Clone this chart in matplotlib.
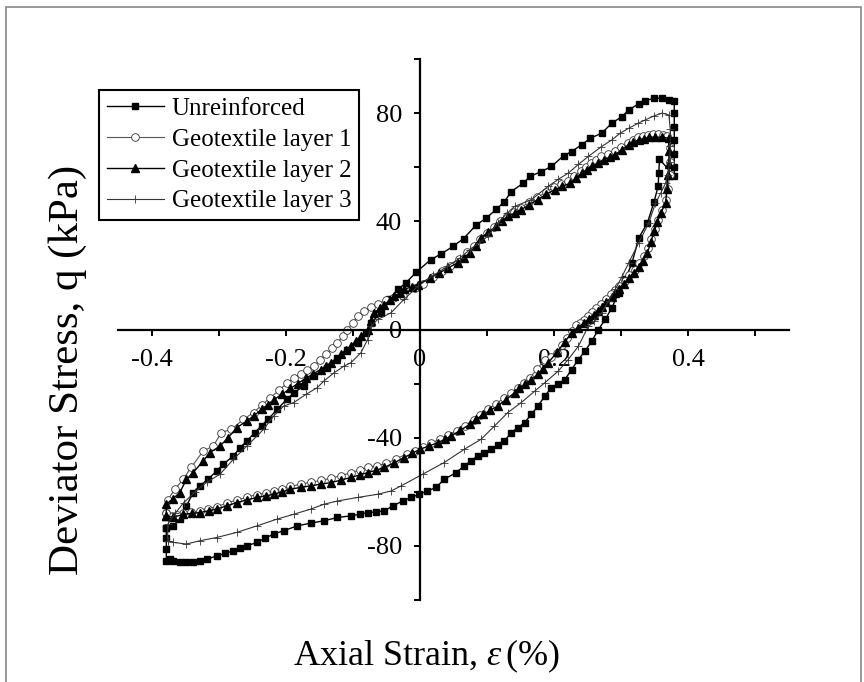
import matplotlib
matplotlib.use("Agg")
import matplotlib.pyplot as plt
from matplotlib.patches import Rectangle
from matplotlib.ticker import MultipleLocator

plt.rcParams['font.family'] = ['Liberation Serif', 'DejaVu Serif']
plt.rcParams['mathtext.fontset'] = 'custom'
plt.rcParams['mathtext.rm'] = 'Liberation Serif'
plt.rcParams['mathtext.it'] = 'Liberation Serif:italic'
plt.rcParams['axes.unicode_minus'] = False

# hysteresis loops: loading branch up to peak strain, then unloading branch back
unreinforced_strain = [
    -0.378, -0.368, -0.358, -0.348, -0.338, -0.328, -0.316, -0.303, -0.293, -0.278,
    -0.268, -0.258, -0.246, -0.236, -0.226, -0.213, -0.198, -0.188, -0.173, -0.158,
    -0.138, -0.123, -0.108, -0.093, -0.081, -0.073, -0.058, -0.046, -0.033, -0.021,
    -0.006, 0.016, 0.032, 0.049, 0.065, 0.084, 0.099, 0.114, 0.126, 0.136,
    0.154, 0.164, 0.181, 0.196, 0.214, 0.226, 0.241, 0.254, 0.271, 0.286,
    0.301, 0.311, 0.326, 0.336, 0.349, 0.361, 0.371, 0.379,
    0.379, 0.379, 0.379, 0.379, 0.379, 0.379,
    0.357, 0.356, 0.355, 0.349, 0.339, 0.326, 0.316, 0.306, 0.296, 0.286,
    0.276, 0.266, 0.256, 0.246, 0.236, 0.226, 0.216, 0.206, 0.196, 0.186,
    0.176, 0.166, 0.156, 0.146, 0.136, 0.126, 0.116, 0.106, 0.096, 0.086,
    0.076, 0.066, 0.054, 0.036, 0.024, 0.011, -0.001, -0.013, -0.026, -0.040,
    -0.053, -0.065, -0.078, -0.090, -0.103, -0.123, -0.143, -0.163, -0.183, -0.203,
    -0.218, -0.231, -0.243, -0.258, -0.268, -0.278, -0.291, -0.303, -0.318, -0.328,
    -0.338, -0.348, -0.358, -0.368, -0.373, -0.378, -0.378, -0.378, -0.378,
]
unreinforced_stress = [
    -73.2, -72.6, -70.1, -65.2, -60.3, -57.8, -55.4, -52.3, -49.8, -46.7,
    -43.7, -41.2, -38.1, -35.5, -33.2, -29.5, -25.8, -23.4, -20.9, -17.2,
    -14.1, -10.4, -7.4, -4.9, -1.2, 2.5, 6.2, 11.1, 14.8, 17.2,
    21.1, 25.8, 28.0, 30.7, 33.6, 38.7, 41.2, 44.5, 47.3, 51.0,
    54.1, 56.6, 58.4, 60.3, 64.2, 65.8, 68.3, 70.7, 72.6, 76.3,
    78.7, 81.2, 83.4, 84.6, 85.5, 85.5, 84.9, 84.3,
    80.0, 75.0, 70.0, 65.0, 60.0, 56.6,
    63.0, 58.0, 53.0, 47.3, 39.4, 33.8, 24.6, 18.5, 13.5, 8.0,
    3.7, 0.0, -4.3, -8.0, -11.1, -14.8, -18.5, -20.0, -21.5, -24.6,
    -28.3, -31.4, -34.4, -36.3, -38.1, -41.2, -42.8, -44.3, -45.5, -46.7,
    -48.6, -50.4, -52.9, -55.4, -58.4, -59.7, -60.9, -62.1, -63.4, -65.2,
    -67.0, -67.4, -67.7, -68.3, -68.9, -69.5, -70.7, -71.6, -72.6, -74.4,
    -75.6, -77.2, -78.7, -80.0, -80.9, -81.8, -82.8, -83.7, -84.9, -85.5,
    -85.9, -86.0, -85.9, -85.5, -84.9, -85.5, -81.0, -77.0, -73.2,
]

layer1_strain = [
    -0.378, -0.376, -0.365, -0.353, -0.341, -0.323, -0.308, -0.296, -0.281, -0.263,
    -0.248, -0.236, -0.223, -0.210, -0.198, -0.188, -0.178, -0.168, -0.158, -0.149,
    -0.140, -0.131, -0.123, -0.115, -0.108, -0.100, -0.093, -0.083, -0.073, -0.063,
    -0.050, -0.040, -0.025, -0.008, 0.005, 0.020, 0.033, 0.045, 0.058, 0.070,
    0.080, 0.090, 0.100, 0.110, 0.120, 0.130, 0.140, 0.150, 0.162, 0.175,
    0.188, 0.200, 0.210, 0.220, 0.230, 0.240, 0.248, 0.255, 0.263, 0.270,
    0.280, 0.290, 0.300, 0.310, 0.318, 0.325, 0.333, 0.340, 0.348, 0.355,
    0.362, 0.368, 0.372, 0.373, 0.372, 0.370, 0.366, 0.360, 0.355, 0.350,
    0.345, 0.340, 0.334, 0.327, 0.320, 0.312, 0.305, 0.297, 0.291, 0.285,
    0.277, 0.270, 0.263, 0.257, 0.250, 0.244, 0.238, 0.232, 0.226, 0.219,
    0.212, 0.204, 0.195, 0.186, 0.175, 0.164, 0.155, 0.146, 0.136, 0.126,
    0.113, 0.101, 0.090, 0.080, 0.067, 0.055, 0.042, 0.030, 0.017, 0.005,
    -0.008, -0.020, -0.035, -0.050, -0.064, -0.078, -0.090, -0.103, -0.118, -0.133,
    -0.148, -0.163, -0.178, -0.193, -0.205, -0.218, -0.230, -0.243, -0.258, -0.273,
    -0.288, -0.303, -0.316, -0.328, -0.341, -0.353, -0.362, -0.370, -0.378,
]
layer1_stress = [
    -68.0, -63.0, -59.0, -55.4, -51.0, -44.9, -43.1, -38.1, -36.9, -33.2,
    -30.7, -28.0, -25.2, -22.5, -19.7, -18.0, -16.5, -15.0, -13.5, -11.2,
    -9.0, -7.0, -4.9, -2.5, 0.0, 2.5, 4.9, 7.0, 8.2, 9.5,
    10.8, 11.5, 12.5, 15.5, 17.0, 19.5, 21.5, 23.5, 26.0, 28.5,
    31.0, 33.5, 35.8, 38.0, 40.0, 42.0, 43.5, 45.0, 47.0, 48.8,
    50.8, 52.5, 53.8, 55.0, 56.8, 58.5, 60.0, 61.5, 62.8, 64.0,
    65.0, 66.0, 67.5, 69.0, 70.0, 71.0, 71.5, 72.0, 72.2, 72.2,
    72.0, 71.5, 67.0, 62.0, 57.0, 52.0, 48.0, 44.0, 40.5, 37.0,
    33.5, 30.0, 27.0, 24.5, 22.0, 20.0, 18.0, 16.0, 14.5, 13.0,
    11.2, 9.5, 8.0, 6.5, 5.0, 3.5, 2.5, 1.5, -0.5, -3.1,
    -5.8, -8.6, -10.0, -11.1, -14.5, -17.8, -19.6, -21.5, -23.3, -25.2,
    -27.5, -29.5, -31.5, -33.5, -35.5, -37.5, -39.0, -40.5, -42.0, -43.5,
    -44.8, -46.0, -47.8, -49.5, -50.3, -51.0, -52.0, -53.0, -54.0, -55.0,
    -55.8, -56.5, -57.2, -58.0, -58.8, -59.8, -60.4, -61.0, -62.0, -63.0,
    -64.2, -65.5, -66.2, -67.0, -67.5, -68.0, -68.5, -69.0, -68.0,
]

layer2_strain = [
    -0.378, -0.378, -0.368, -0.358, -0.348, -0.338, -0.323, -0.313, -0.298, -0.286,
    -0.273, -0.258, -0.248, -0.236, -0.227, -0.218, -0.205, -0.193, -0.182, -0.170,
    -0.159, -0.148, -0.140, -0.133, -0.125, -0.118, -0.110, -0.103, -0.095, -0.088,
    -0.078, -0.073, -0.068, -0.060, -0.053, -0.045, -0.038, -0.030, -0.024, -0.012,
    -0.003, 0.015, 0.029, 0.042, 0.056, 0.065, 0.074, 0.083, 0.091, 0.102,
    0.114, 0.122, 0.131, 0.141, 0.151, 0.163, 0.176, 0.188, 0.201, 0.212,
    0.224, 0.233, 0.241, 0.249, 0.256, 0.265, 0.274, 0.283, 0.291, 0.301,
    0.311, 0.318, 0.326, 0.334, 0.341, 0.351, 0.361, 0.371,
    0.371, 0.371, 0.370, 0.368, 0.366, 0.359, 0.354, 0.349, 0.344, 0.339,
    0.333, 0.326, 0.319, 0.311, 0.304, 0.296, 0.291, 0.286, 0.278, 0.271,
    0.265, 0.259, 0.252, 0.245, 0.236, 0.226, 0.216, 0.204, 0.191, 0.184,
    0.176, 0.166, 0.156, 0.148, 0.141, 0.128, 0.116, 0.105, 0.094, 0.084,
    0.074, 0.060, 0.046, 0.037, 0.027, 0.014, 0.000, -0.012, -0.024, -0.038,
    -0.053, -0.065, -0.078, -0.090, -0.103, -0.118, -0.133, -0.148, -0.163, -0.178,
    -0.193, -0.205, -0.218, -0.230, -0.243, -0.258, -0.273, -0.288, -0.303, -0.315,
    -0.328, -0.340, -0.353, -0.368, -0.378,
]
layer2_stress = [
    -68.9, -64.6, -62.5, -60.3, -55.4, -52.9, -48.6, -45.5, -43.1, -40.0,
    -36.3, -33.8, -32.0, -29.5, -27.8, -26.0, -23.8, -21.8, -20.0, -18.0,
    -16.4, -14.8, -13.5, -12.3, -10.8, -9.2, -7.7, -6.2, -4.3, -2.5,
    0.0, 3.0, 6.2, 7.8, 9.2, 10.8, 12.3, 13.6, 14.8, 15.8,
    16.6, 19.0, 20.9, 22.8, 24.6, 26.5, 28.3, 31.0, 33.8, 36.0,
    38.1, 40.0, 41.8, 43.0, 44.3, 46.2, 48.0, 50.0, 51.7, 52.9,
    54.1, 56.0, 57.8, 59.0, 60.3, 61.5, 62.7, 63.7, 64.6, 66.5,
    68.3, 69.2, 70.1, 70.6, 71.1, 71.1, 71.1, 70.7,
    66.0, 61.0, 57.0, 52.0, 46.7, 43.1, 39.7, 36.3, 32.3, 28.3,
    25.5, 23.0, 21.0, 19.0, 17.0, 15.0, 13.5, 12.0, 10.2, 8.5,
    7.0, 5.5, 4.0, 2.5, 0.5, -1.2, -4.5, -8.5, -12.3, -14.5,
    -16.6, -18.5, -20.3, -21.8, -23.4, -25.9, -28.3, -29.9, -31.4, -33.2,
    -35.1, -37.3, -39.4, -40.6, -41.8, -43.0, -44.3, -45.8, -47.4, -49.2,
    -51.0, -52.0, -52.9, -53.8, -54.7, -55.7, -56.6, -57.2, -57.8, -58.4,
    -59.0, -60.0, -60.9, -61.5, -62.1, -63.0, -64.0, -65.2, -66.4, -67.0,
    -67.7, -68.0, -68.3, -69.5, -68.9,
]

layer3_strain = [
    -0.376, -0.376, -0.365, -0.352, -0.335, -0.318, -0.298, -0.278, -0.258, -0.233,
    -0.218, -0.203, -0.188, -0.170, -0.153, -0.143, -0.128, -0.113, -0.103, -0.088,
    -0.078, -0.073, -0.063, -0.043, -0.024, -0.003, 0.020, 0.041, 0.060, 0.074,
    0.088, 0.101, 0.116, 0.130, 0.141, 0.166, 0.191, 0.206, 0.221, 0.236,
    0.251, 0.270, 0.286, 0.298, 0.311, 0.325, 0.336, 0.349, 0.361, 0.371,
    0.373, 0.373, 0.372, 0.369, 0.366, 0.359, 0.351, 0.341, 0.326, 0.311,
    0.301, 0.291, 0.281, 0.271, 0.260, 0.251, 0.236, 0.221, 0.206, 0.186,
    0.171, 0.151, 0.131, 0.111, 0.091, 0.066, 0.036, 0.004, -0.028, -0.043,
    -0.063, -0.093, -0.123, -0.143, -0.163, -0.188, -0.213, -0.243, -0.273, -0.303,
    -0.328, -0.348, -0.368, -0.376,
]
layer3_stress = [
    -78.1, -72.0, -68.0, -64.0, -60.0, -56.5, -53.5, -48.0, -43.1, -36.9,
    -32.0, -28.3, -27.0, -24.0, -21.5, -19.0, -16.0, -13.5, -12.3, -8.6,
    -3.7, 1.2, 3.7, 6.2, 11.1, 16.0, 20.0, 23.4, 26.5, 29.5,
    32.0, 34.4, 39.4, 43.0, 45.5, 48.0, 52.9, 55.5, 57.8, 61.0,
    64.0, 67.5, 70.1, 72.5, 74.4, 76.2, 77.5, 79.0, 80.0, 79.3,
    74.0, 68.0, 62.0, 57.0, 54.1, 50.5, 46.7, 39.4, 32.0, 24.6,
    19.5, 14.8, 10.5, 6.2, 3.0, 1.2, -6.2, -11.1, -15.4, -19.7,
    -22.8, -27.0, -30.7, -35.7, -40.6, -44.3, -49.2, -53.5, -57.8, -59.7,
    -60.9, -62.1, -63.4, -64.6, -66.4, -68.3, -70.1, -72.6, -75.0, -76.9,
    -78.1, -79.3, -78.7, -78.1,
]

fig = plt.figure(figsize=(8.64, 6.82), dpi=100)
ax = fig.add_axes([118 / 864, 82 / 682, 671 / 864, 541 / 682])

ax.plot(unreinforced_strain, unreinforced_stress, color='black', lw=1.0,
        marker='s', markersize=5, label='Unreinforced')
ax.plot(layer1_strain, layer1_stress, color='#555555', lw=0.8,
        marker='o', markersize=5.5, markerfacecolor='white',
        markeredgecolor='#333333', markeredgewidth=0.6, label='Geotextile layer 1')
ax.plot(layer2_strain, layer2_stress, color='black', lw=1.0,
        marker='^', markersize=5.5, label='Geotextile layer 2')
ax.plot(layer3_strain, layer3_stress, color='#333333', lw=0.8,
        marker='+', markersize=6, markeredgewidth=0.6, label='Geotextile layer 3')

ax.set_xlim(-0.45, 0.55)
ax.set_ylim(-100, 100)

# axes cross at the origin
ax.spines['left'].set_position(('data', 0))
ax.spines['bottom'].set_position(('data', 0))
ax.spines['top'].set_visible(False)
ax.spines['right'].set_visible(False)
for side in ['left', 'bottom']:
    ax.spines[side].set_linewidth(1.6)

ax.xaxis.set_minor_locator(MultipleLocator(0.1))
ax.yaxis.set_minor_locator(MultipleLocator(20))
ax.set_xticks([-0.4, -0.2, 0, 0.2, 0.4])
ax.set_xticklabels(['-0.4', '-0.2', '0', '0.2', '0.4'])
ax.set_yticks([-80, -40, 0, 40, 80])
ax.set_yticklabels(['-80', '-40', '0', '40', '80'])
ax.tick_params(axis='both', which='both', direction='out', length=4, width=1.4,
               labelsize=19)
ax.tick_params(axis='x', pad=10)
ax.tick_params(axis='y', pad=9)

leg = ax.legend(loc='upper left', bbox_to_anchor=(99 / 864, 1 - 90 / 682),
                bbox_transform=fig.transFigure, borderaxespad=0, fontsize=18,
                frameon=True, fancybox=False, framealpha=1, handlelength=2.3,
                handletextpad=0.3, labelspacing=0.33, borderpad=0.3)
leg.get_frame().set_edgecolor('black')
leg.get_frame().set_linewidth(1.5)

fig.text(68 / 864, 1 - 370 / 682, 'Deviator Stress, q (kPa)', rotation=90,
         ha='center', va='center', fontsize=31)
fig.text(426 / 864, 1 - 656 / 682, r'Axial Strain, $\varepsilon\,$(%)',
         ha='center', va='center', fontsize=26)

# thin grey frame round the figure
fig.patches.append(Rectangle((6 / 864, -0.02), 855 / 864, 1 - 7 / 682 + 0.02,
                             transform=fig.transFigure, fill=False,
                             edgecolor='#888888', linewidth=1.2))

fig.savefig('out.png', dpi=100)
